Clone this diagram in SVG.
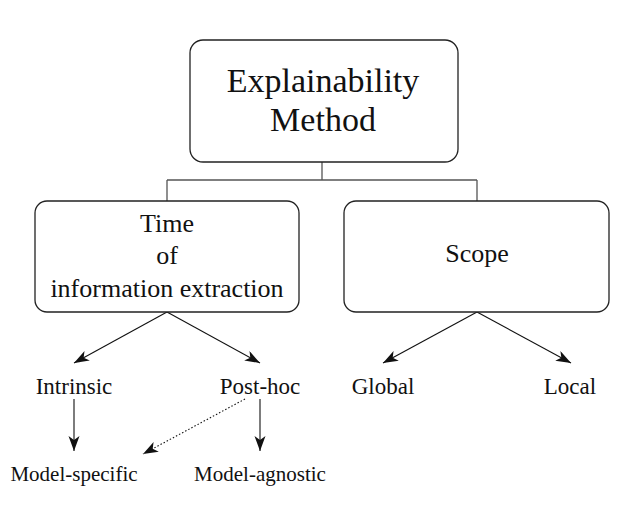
<svg xmlns="http://www.w3.org/2000/svg" width="637" height="508" viewBox="0 0 637 508">
<style>
.box{fill:#fff;stroke:#222;stroke-width:1.3}
.t{font-family:"Liberation Serif","Times New Roman",serif;fill:#111;text-anchor:middle}
.tree{fill:none;stroke:#555;stroke-width:1.3}
.arr{fill:none;stroke:#111;stroke-width:1.1}
.dot{fill:none;stroke:#111;stroke-width:1.1;stroke-dasharray:1.5 2}
</style>
<defs>
<marker id="ah" markerUnits="userSpaceOnUse" markerWidth="16" markerHeight="12" refX="15" refY="5.5" orient="auto">
<path d="M0,0 L15,5.5 L0,11 L4,5.5 Z" fill="#111"/>
</marker>
</defs>
<rect width="637" height="508" fill="#fff"/>
<g id="connectors">
<path class="tree" d="M322,162 V180 M167,180 H477 M167,180 V201 M477,180 V201"/>
<line class="arr" x1="167" y1="312" x2="74" y2="363" marker-end="url(#ah)"/>
<line class="arr" x1="167" y1="312" x2="260" y2="363" marker-end="url(#ah)"/>
<line class="arr" x1="477" y1="312" x2="383" y2="363" marker-end="url(#ah)"/>
<line class="arr" x1="477" y1="312" x2="571" y2="363" marker-end="url(#ah)"/>
<line class="arr" x1="74" y1="399" x2="74" y2="451" marker-end="url(#ah)"/>
<line class="arr" x1="260" y1="399" x2="260" y2="451" marker-end="url(#ah)"/>
<line class="dot" x1="245" y1="399" x2="143" y2="454" marker-end="url(#ah)"/>
</g>
<g id="explainability-method">
<rect class="box" x="190" y="40" width="268" height="122" rx="13"/>
<text class="t" x="323" y="92" font-size="34">Explainability</text>
<text class="t" x="323" y="131" font-size="34">Method</text>
</g>
<g id="time-of-extraction">
<rect class="box" x="35" y="201" width="264" height="111" rx="12"/>
<text class="t" x="167" y="232" font-size="26">Time</text>
<text class="t" x="167" y="264" font-size="26">of</text>
<text class="t" x="167" y="297" font-size="26">information extraction</text>
</g>
<g id="scope">
<rect class="box" x="344" y="201" width="265" height="111" rx="12"/>
<text class="t" x="477" y="262" font-size="26">Scope</text>
</g>
<g id="intrinsic"><text class="t" x="74" y="394" font-size="23">Intrinsic</text></g>
<g id="post-hoc"><text class="t" x="260" y="394" font-size="23">Post-hoc</text></g>
<g id="global"><text class="t" x="383" y="394" font-size="23">Global</text></g>
<g id="local"><text class="t" x="570" y="394" font-size="23">Local</text></g>
<g id="model-specific"><text class="t" x="74" y="481" font-size="21">Model-specific</text></g>
<g id="model-agnostic"><text class="t" x="260" y="481" font-size="21">Model-agnostic</text></g>
</svg>
